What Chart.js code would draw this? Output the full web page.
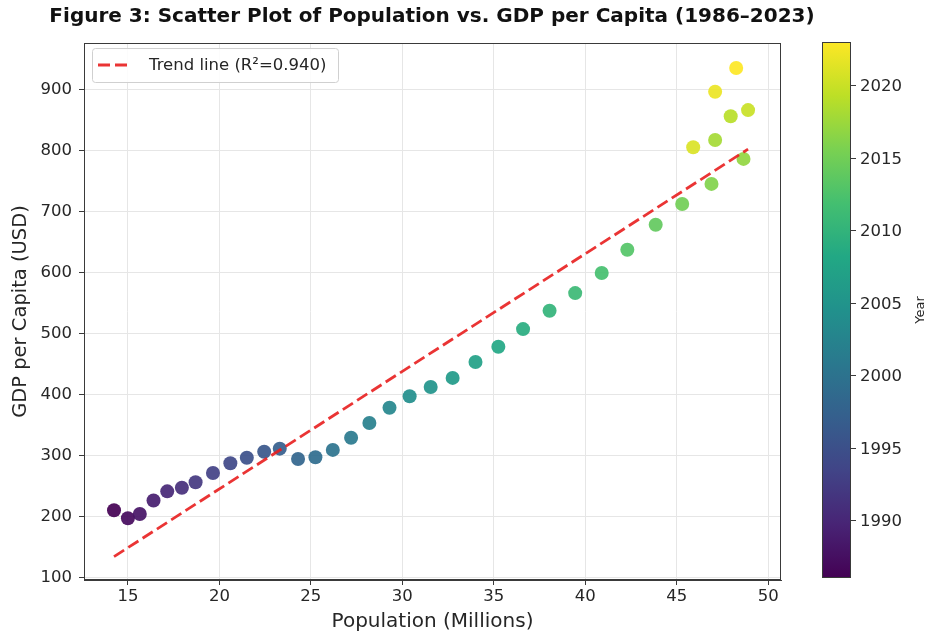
<!DOCTYPE html>
<html>
<head>
<meta charset="utf-8">
<script src="https://cdn.jsdelivr.net/npm/chart.js@4.4.1/dist/chart.umd.min.js"></script>
<style>
  html, body { margin: 0; padding: 0; background: #ffffff; }
  #wrap { width: 928px; height: 638px; }
</style>
</head>
<body>
<div id="wrap"><canvas id="chart" width="928" height="638"></canvas></div>
<script>
// Observations, one per year
const years = [1986, 1987, 1988, 1989, 1990, 1991, 1992, 1993, 1994, 1995, 1996, 1997, 1998,
               1999, 2000, 2001, 2002, 2003, 2004, 2005, 2006, 2007, 2008, 2009, 2010, 2011,
               2012, 2013, 2014, 2015, 2016, 2017, 2018, 2019, 2020, 2021, 2022, 2023];
const population = [14.24, 15.0, 15.65, 16.4, 17.15, 17.95, 18.7, 19.65, 20.6, 21.5, 22.45, 23.3,
                    24.3, 25.25, 26.2, 27.2, 28.2, 29.3, 30.4, 31.55, 32.75, 34.0, 35.25, 36.6, 38.05,
                    39.45, 40.9, 42.3, 43.85, 45.3, 46.9, 48.65, 47.1, 47.95, 48.9, 45.9, 47.1, 48.25];
const gdpPerCapita = [211, 198, 205, 227, 242, 248, 257, 272, 288, 297, 307, 312,
                      295, 298, 310, 330, 354, 379, 398, 413, 428, 454, 479, 508, 538,
                      567, 600, 638, 679, 713, 746, 787, 818, 857, 867, 806, 897, 936];

// Fitted trend line end points
const trendPopulation = [14.24, 48.9];
const trendGdp = [135, 803];
const trendLabel = 'Trend line (R\u00b2=0.940)';

// Tick labels
const xTicks = [15, 20, 25, 30, 35, 40, 45, 50];
const yTicks = [100, 200, 300, 400, 500, 600, 700, 800, 900];
const yearTicks = [1990, 1995, 2000, 2005, 2010, 2015, 2020];

const FONT = "'DejaVu Sans', sans-serif";
const TEXT = '#262626';
const TICK_SIZE = 16.5;

// viridis colour map
const VIRIDIS = ['#440154', '#482475', '#414487', '#355f8d', '#2a788e', '#21918c',
                 '#22a884', '#44bf70', '#7ad151', '#bddf26', '#fde725'];
function hexRgb(h) { return [1, 3, 5].map(i => parseInt(h.substr(i, 2), 16)); }
function viridis(t, alpha) {
  t = Math.max(0, Math.min(1, t));
  const p = t * (VIRIDIS.length - 1);
  const i = Math.min(Math.floor(p), VIRIDIS.length - 2);
  const f = p - i;
  const a = hexRgb(VIRIDIS[i]), b = hexRgb(VIRIDIS[i + 1]);
  const c = a.map((v, k) => Math.round(v + (b[k] - v) * f));
  return `rgba(${c[0]},${c[1]},${c[2]},${alpha})`;
}
const yearMin = Math.min(...years), yearMax = Math.max(...years);
const pointColors = years.map(y => viridis((y - yearMin) / (yearMax - yearMin), 0.92));

const scatterData = years.map((y, i) => ({ x: population[i], y: gdpPerCapita[i] }));
const trendData = trendPopulation.map((x, i) => ({ x: x, y: trendGdp[i] }));

const TREND_COLOR = 'rgba(232, 30, 30, 0.9)';
const TREND_DASH = [12, 5];

// Frame, title, legend and colour bar
const decorations = {
  id: 'decorations',
  afterDatasetsDraw(chart) {
    const { ctx, chartArea: a } = chart;
    ctx.save();
    // axes frame
    ctx.strokeStyle = '#3a3a3a';
    ctx.lineWidth = 1;
    ctx.strokeRect(a.left + 0.5, a.top + 0.5, a.right - a.left - 1, a.bottom - a.top - 1);

    // legend box
    const lx = a.left + 8, ly = a.top + 5, lw = 246, lh = 34;
    ctx.fillStyle = 'rgba(255,255,255,0.85)';
    ctx.strokeStyle = '#d0d0d0';
    ctx.beginPath();
    ctx.roundRect(lx + 0.5, ly + 0.5, lw, lh, 3);
    ctx.fill();
    ctx.stroke();
    ctx.strokeStyle = TREND_COLOR;
    ctx.lineWidth = 2.8;
    ctx.setLineDash(TREND_DASH);
    ctx.beginPath();
    ctx.moveTo(lx + 6, ly + lh / 2);
    ctx.lineTo(lx + 38, ly + lh / 2);
    ctx.stroke();
    ctx.setLineDash([]);
    ctx.fillStyle = TEXT;
    ctx.font = `${TICK_SIZE}px ${FONT}`;
    ctx.textAlign = 'left';
    ctx.textBaseline = 'middle';
    ctx.fillText(trendLabel, lx + 57, ly + lh / 2 + 1);

    // title
    ctx.font = `bold 20px ${FONT}`;
    ctx.fillStyle = '#111';
    ctx.textAlign = 'center';
    ctx.fillText('Figure 3: Scatter Plot of Population vs. GDP per Capita (1986\u20132023)', 432, 17);

    // colour bar
    const cx = 822, cw = 29, cTop = 42, cBottom = 578;
    const grad = ctx.createLinearGradient(0, cBottom, 0, cTop);
    VIRIDIS.forEach((c, i) => grad.addColorStop(i / (VIRIDIS.length - 1), c));
    ctx.fillStyle = grad;
    ctx.fillRect(cx, cTop, cw, cBottom - cTop);
    ctx.strokeStyle = '#3a3a3a';
    ctx.lineWidth = 1;
    ctx.strokeRect(cx + 0.5, cTop + 0.5, cw - 1, cBottom - cTop - 1);
    const yearToPx = yr => cBottom - (yr - yearMin) / (yearMax - yearMin) * (cBottom - cTop);
    ctx.font = `${TICK_SIZE}px ${FONT}`;
    ctx.fillStyle = TEXT;
    ctx.textAlign = 'left';
    yearTicks.forEach(yr => {
      const py = Math.round(yearToPx(yr)) + 0.5;
      ctx.beginPath();
      ctx.moveTo(cx + cw, py);
      ctx.lineTo(cx + cw + 5, py);
      ctx.stroke();
      ctx.fillText(String(yr), cx + cw + 9, py + 1);
    });
    ctx.save();
    ctx.translate(921, (cTop + cBottom) / 2);
    ctx.rotate(-Math.PI / 2);
    ctx.textAlign = 'center';
    ctx.font = `13px ${FONT}`;
    ctx.fillText('Year', 0, 0);
    ctx.restore();
    ctx.restore();
  }
};

new Chart(document.getElementById('chart'), {
  type: 'scatter',
  data: {
    datasets: [
      {
        label: 'Observations',
        data: scatterData,
        backgroundColor: pointColors,
        borderWidth: 0,
        pointRadius: 7,
        pointHoverRadius: 7,
        order: 2
      },
      {
        type: 'line',
        label: trendLabel,
        data: trendData,
        borderColor: TREND_COLOR,
        borderWidth: 2.8,
        borderDash: TREND_DASH,
        pointRadius: 0,
        fill: false,
        order: 1
      }
    ]
  },
  options: {
    responsive: false,
    animation: false,
    devicePixelRatio: 1,
    layout: { padding: { top: 43, right: 147, left: 0, bottom: 0 } },
    plugins: { legend: { display: false }, tooltip: { enabled: false }, title: { display: false } },
    scales: {
      x: {
        type: 'linear',
        min: 12.6,
        max: 50.7,
        afterBuildTicks: s => { s.ticks = xTicks.map(v => ({ value: v })); },
        afterFit: s => { s.height = 58; },
        ticks: { font: { family: FONT, size: TICK_SIZE }, color: TEXT, padding: 2, maxRotation: 0 },
        grid: { color: '#e6e6e6', tickColor: '#3a3a3a', tickLength: 5, lineWidth: 1 },
        border: { display: true, color: '#3a3a3a' },
        title: {
          display: true, text: 'Population (Millions)', color: TEXT,
          font: { family: FONT, size: 20 }, padding: { top: 0, bottom: 4 }
        }
      },
      y: {
        type: 'linear',
        min: 96.7,
        max: 977,
        afterBuildTicks: s => { s.ticks = yTicks.map(v => ({ value: v })); },
        afterFit: s => { s.width = 84; },
        ticks: { font: { family: FONT, size: TICK_SIZE }, color: TEXT, padding: 7 },
        grid: { color: '#e6e6e6', tickColor: '#3a3a3a', tickLength: 5, lineWidth: 1 },
        border: { display: true, color: '#3a3a3a' },
        title: {
          display: true, text: 'GDP per Capita (USD)', color: TEXT,
          font: { family: FONT, size: 19.5 }, padding: { top: 9, bottom: 0 }
        }
      }
    }
  },
  plugins: [decorations]
});
</script>
</body>
</html>
